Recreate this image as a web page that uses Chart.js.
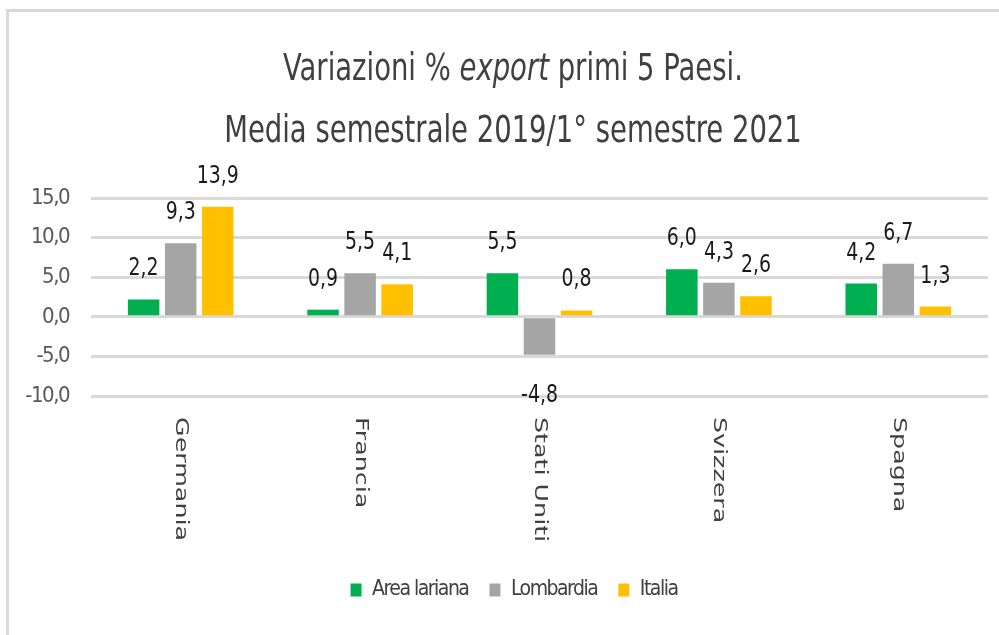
<!DOCTYPE html>
<html>
<head>
<meta charset="utf-8">
<script src="https://cdn.jsdelivr.net/npm/chart.js@4/dist/chart.umd.min.js"></script>
<style>
  html, body { margin: 0; padding: 0; background: #fff; overflow: hidden; }
  #wrap { position: relative; width: 999px; height: 635px; overflow: hidden; }
  #frame { position: absolute; left: 6px; top: 9px; width: 1100px; height: 700px;
           border-left: 3px solid #d9d9d9; border-top: 3px solid #d9d9d9; box-sizing: border-box; }
  #c { position: absolute; left: 0; top: 0; }
</style>
</head>
<body>
<div id="wrap">
  <div id="frame"></div>
  <canvas id="c" width="999" height="635"></canvas>
</div>
<script>
// ---- data ----
const categories = ['Germania', 'Francia', 'Stati Uniti', 'Svizzera', 'Spagna'];
const areaLariana = [2.2, 0.9, 5.5, 6.0, 4.2];
const lombardia = [9.3, 5.5, -4.8, 4.3, 6.7];
const italia = [13.9, 4.1, 0.8, 2.6, 1.3];
const seriesNames = ['Area lariana', 'Lombardia', 'Italia'];
const yMin = -10, yMax = 15, yStep = 5;
const titleLine1 = [['Variazioni % ', false], ['export', true], [' primi 5 Paesi.', false]];
const titleLine2 = 'Media semestrale 2019/1° semestre 2021';

const NARROW = '"Liberation Sans Narrow", "DejaVu Sans Condensed", "Roboto Condensed", sans-serif';
const fmt = v => v.toFixed(1).replace('.', ',');

// tighter letter spacing for axis ticks & legend (measured in layout, drawn before datasets)
const setLS = (chart, v) => { try { chart.ctx.letterSpacing = v; } catch (e) {} };
const spacingPlugin = {
  id: 'spacing',
  beforeLayout(chart) { setLS(chart, '-1.5px'); },
  afterLayout(chart) {
    setLS(chart, '0px');
    if (chart.legend) { chart.legend.left += 10; chart.legend.right += 10; }
  },
  beforeDraw(chart) { setLS(chart, '-1.5px'); },
  beforeDatasetsDraw(chart) { setLS(chart, '0px'); }
};

const titlePlugin = {
  id: 'mixedTitle',
  afterDraw(chart) {
    const ctx = chart.ctx;
    ctx.save();
    ctx.fillStyle = '#404040';
    ctx.textBaseline = 'alphabetic';
    ctx.textAlign = 'left';
    const size = 37, sx = 0.825, cx = 513;
    let total = 0;
    const widths = titleLine1.map(([t, it]) => {
      ctx.font = (it ? 'italic ' : '') + size + 'px ' + NARROW;
      const w = ctx.measureText(t).width; total += w; return w;
    });
    ctx.save();
    ctx.translate(cx, 80);
    ctx.scale(sx, 1);
    let x = -total / 2;
    titleLine1.forEach(([t, it], i) => {
      ctx.font = (it ? 'italic ' : '') + size + 'px ' + NARROW;
      ctx.fillText(t, x, 0);
      x += widths[i];
    });
    ctx.restore();
    ctx.save();
    ctx.translate(cx, 142);
    ctx.scale(sx, 1);
    ctx.font = size + 'px ' + NARROW;
    ctx.textAlign = 'center';
    ctx.fillText(titleLine2, 0, 0);
    ctx.restore();
    ctx.restore();
  }
};

const valueLabels = {
  id: 'valueLabels',
  afterDatasetsDraw(chart) {
    const ctx = chart.ctx;
    ctx.save();
    ctx.font = '25px ' + NARROW;
    ctx.fillStyle = '#1a1a1a';
    ctx.textAlign = 'center';
    ctx.textBaseline = 'alphabetic';
    chart.data.datasets.forEach((ds, i) => {
      const meta = chart.getDatasetMeta(i);
      meta.data.forEach((bar, j) => {
        const v = ds.data[j];
        const y = v >= 0 ? bar.y - 24 : bar.y + 47;
        ctx.save();
        ctx.translate(bar.x, y);
        ctx.scale(0.84, 1);
        ctx.fillText(fmt(v), 0, 0);
        ctx.restore();
      });
    });
    ctx.restore();
  }
};

const catLabels = {
  id: 'catLabels',
  afterDraw(chart) {
    const xs = chart.scales.x;
    const ctx = chart.ctx;
    ctx.save();
    ctx.font = '17px "DejaVu Sans", sans-serif';
    ctx.fillStyle = '#404040';
    ctx.textBaseline = 'middle';
    ctx.textAlign = 'left';
    xs.getLabels().forEach((lab, i) => {
      const x = xs.getPixelForTick(i);
      ctx.save();
      ctx.translate(x, xs.top + 21);
      ctx.rotate(Math.PI / 2);
      ctx.scale(1.49, 1);
      ctx.fillText(lab, 0, 0);
      ctx.restore();
    });
    ctx.restore();
  }
};

new Chart(document.getElementById('c'), {
  type: 'bar',
  data: {
    labels: categories,
    datasets: [
      { label: seriesNames[0], data: areaLariana, backgroundColor: '#00B050' },
      { label: seriesNames[1], data: lombardia, backgroundColor: '#A5A5A5' },
      { label: seriesNames[2], data: italia, backgroundColor: '#FFC000' }
    ]
  },
  options: {
    responsive: false,
    animation: false,
    layout: { padding: { top: 198, left: 20, right: 11, bottom: 24.5 } },
    datasets: { bar: { categoryPercentage: 0.62, barPercentage: 0.85 } },
    scales: {
      x: {
        grid: { display: false },
        border: { display: false },
        ticks: { display: false },
        afterFit(s) { s.height = 162.5; }
      },
      y: {
        min: yMin, max: yMax,
        grid: { color: '#d9d9d9', lineWidth: 3, drawTicks: false },
        border: { display: false },
        ticks: {
          stepSize: yStep,
          padding: 22,
          color: '#595959',
          font: { family: NARROW, size: 22 },
          callback: v => fmt(v)
        },
        afterFit(s) { s.width = 71; }
      }
    },
    plugins: {
      title: { display: false },
      tooltip: { enabled: false },
      legend: {
        position: 'bottom',
        labels: {
          boxWidth: 11, boxHeight: 13, padding: 21,
          color: '#404040',
          font: { family: NARROW, size: 21 }
        }
      }
    }
  },
  plugins: [spacingPlugin, titlePlugin, valueLabels, catLabels]
});
</script>
</body>
</html>
